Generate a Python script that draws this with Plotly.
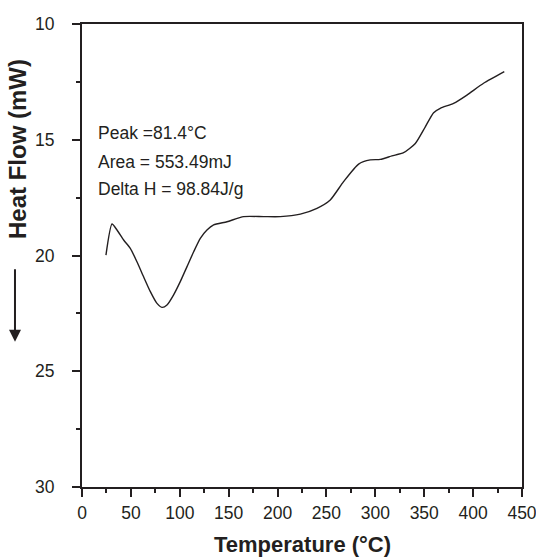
import plotly.graph_objects as go

temperature = [24.5, 30.7, 35.8, 42.6, 49.4, 56.2, 63.0, 69.9, 76.7, 81.8, 86.9, 93.7, 100.5,
               107.4, 114.2, 121.0, 127.8, 134.6, 148.3, 165.3, 185.7, 202.8, 223.3, 240.3,
               253.9, 267.5, 282.9, 294.8, 305.1, 317.0, 328.9, 340.9, 351.1, 359.6, 366.4,
               380.0, 393.7, 410.7, 431.9]
heat_flow = [19.98, 18.64, 18.9, 19.33, 19.69, 20.27, 20.92, 21.56, 22.07, 22.24, 22.14, 21.7, 21.13,
             20.48, 19.84, 19.26, 18.9, 18.68, 18.54, 18.32, 18.32, 18.32, 18.21, 17.96,
             17.6, 16.81, 16.05, 15.87, 15.85, 15.70, 15.56, 15.16, 14.44, 13.83, 13.64,
             13.43, 13.07, 12.56, 12.06]
x_ticks = [0, 50, 100, 150, 200, 250, 300, 350, 400, 450]
y_ticks = [10, 15, 20, 25, 30]
notes = ["Peak =81.4°C", "Area = 553.49mJ", "Delta H = 98.84J/g"]

FONT = "Liberation Sans, Arial, sans-serif"
INK = "#231f20"

fig = go.Figure()
fig.add_trace(go.Scatter(x=temperature, y=heat_flow, mode="lines",
                         line=dict(color=INK, width=1.4, shape="spline", smoothing=0.6),
                         showlegend=False, hoverinfo="skip", cliponaxis=False))

axis_common = dict(showline=True, linecolor=INK, linewidth=2, mirror=True,
                   ticks="outside", tickcolor=INK, tickwidth=2, ticklen=8,
                   showgrid=False, zeroline=False, ticklabeloverflow="allow",
                   tickfont=dict(family=FONT, size=17.5, color=INK))

fig.update_xaxes(range=[0, 450], tickvals=x_ticks, ticktext=[str(v) for v in x_ticks],
                 minor=dict(dtick=25, tick0=0, ticks="outside", ticklen=4, tickwidth=2,
                            tickcolor=INK, showgrid=False),
                 ticklabelstandoff=1, **axis_common)
fig.update_yaxes(range=[30, 10], tickvals=y_ticks, ticktext=[str(v) for v in y_ticks],
                 minor=dict(dtick=2.5, tick0=10, ticks="outside", ticklen=4, tickwidth=2,
                            tickcolor=INK, showgrid=False),
                 ticklabelstandoff=14, **axis_common)

ann = []
note_y = [0.7646, 0.7019, 0.6436]
for t, yy in zip(notes, note_y):
    ann.append(dict(text=t, x=0.032, y=yy, xref="paper", yref="paper",
                    xanchor="left", yanchor="middle", showarrow=False,
                    font=dict(family=FONT, size=17.5, color=INK)))
ann.append(dict(text="<b>Heat Flow (mW)</b>", x=-0.1477, y=0.730, xref="paper", yref="paper",
                xanchor="center", yanchor="middle", textangle=-90, showarrow=False,
                font=dict(family=FONT, size=24, color=INK)))
ann.append(dict(text="<b>Temperature (°C)</b>", x=0.5, y=-0.125, xref="paper", yref="paper",
                xanchor="center", yanchor="middle", showarrow=False,
                font=dict(family=FONT, size=22, color=INK)))
ann.append(dict(text="", x=-0.1523, y=0.3138, xref="paper", yref="paper",
                ax=0, ay=-74, axref="pixel", ayref="pixel", showarrow=True,
                arrowhead=2, arrowsize=1.2, arrowwidth=2, arrowcolor=INK, standoff=0))

fig.update_layout(width=536, height=559,
                  margin=dict(l=82, r=14, t=24, b=72, autoexpand=False),
                  paper_bgcolor="white", plot_bgcolor="white",
                  annotations=ann)

fig.write_html("out.html", config={"displayModeBar": False},
               post_script="document.body.style.margin='0';document.body.style.overflow='hidden';")
